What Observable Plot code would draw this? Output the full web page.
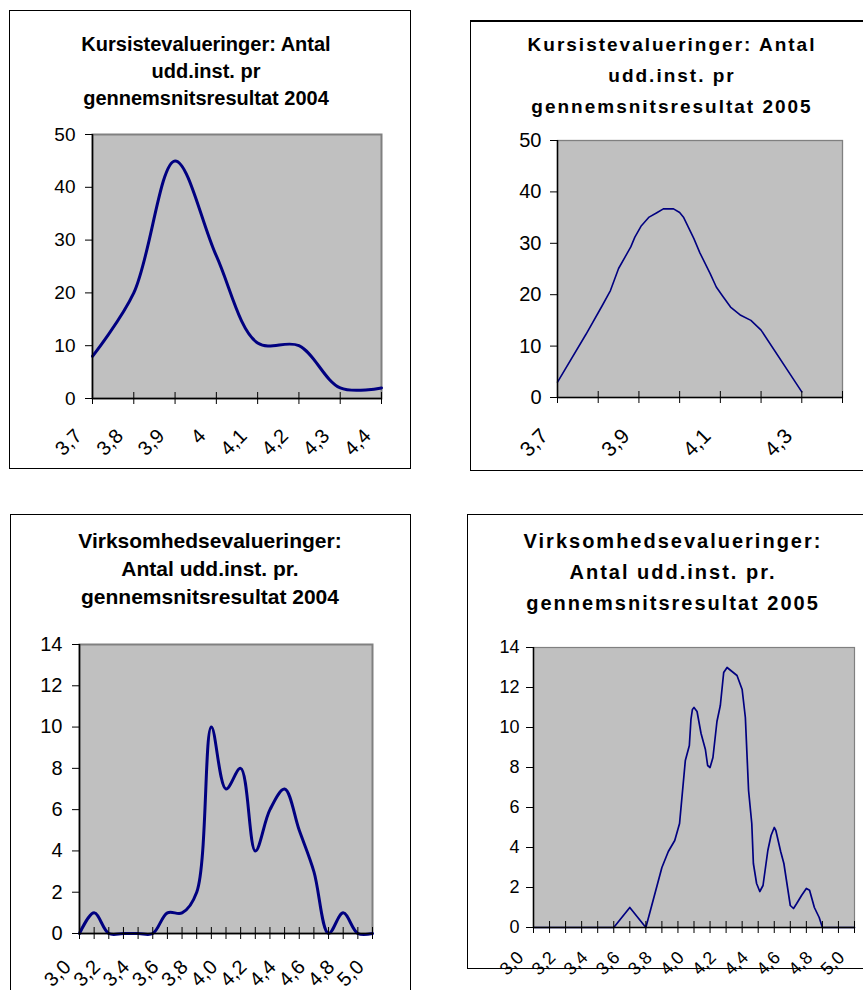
<!DOCTYPE html>
<html><head><meta charset="utf-8">
<script src="https://cdn.jsdelivr.net/npm/d3@7"></script>
<script src="https://cdn.jsdelivr.net/npm/@observablehq/plot@0.6"></script>
<style>
body{margin:0;background:#fff;font-family:"Liberation Sans",Arial,sans-serif;}
#page{position:relative;width:863px;height:990px;overflow:hidden;background:#fff;}
.box{position:absolute;border:1px solid #000;box-sizing:border-box;background:#fff;}
.title{position:absolute;text-align:center;font-weight:bold;white-space:nowrap;color:#000;font-family:"Liberation Sans",Arial,sans-serif;}
</style></head><body><div id="page"></div>
<script>
// ---- data ----
const k04X = [3.7, 3.8, 3.9, 4.0, 4.1, 4.2, 4.3, 4.4];
const k04Y = [8, 20, 45, 27, 10.5, 10, 2, 2];

const k05X = [3.70, 3.77, 3.81, 3.83, 3.85, 3.88, 3.89, 3.905, 3.925, 3.945, 3.96, 3.985, 4.0, 4.01, 4.035, 4.05, 4.075, 4.09, 4.105, 4.125, 4.15, 4.175, 4.2, 4.3];
const k05Y = [3, 12.3, 17.9, 20.8, 25.1, 29.3, 31.2, 33.3, 35.1, 36, 36.7, 36.7, 36, 35, 30.9, 28.1, 24.1, 21.5, 19.8, 17.6, 16, 15, 13.1, 1.1];

const v04X = [3.0, 3.1, 3.2, 3.3, 3.4, 3.5, 3.6, 3.7, 3.8, 3.9, 4.0, 4.1, 4.2, 4.3, 4.4, 4.5, 4.6, 4.7, 4.8, 4.9, 5.0];
const v04Y = [0, 1, 0, 0, 0, 0, 1, 1, 2, 10, 7, 8, 4, 6, 7, 5, 3, 0, 1, 0, 0];

const v05X = [3.0, 3.5, 3.6, 3.7, 3.8, 3.84, 3.88, 3.91, 3.946, 3.971, 3.981, 3.99, 4.0, 4.019, 4.044, 4.071, 4.085, 4.1, 4.118, 4.143, 4.164, 4.185, 4.206, 4.268, 4.30, 4.32, 4.34, 4.36, 4.37, 4.39, 4.41, 4.43, 4.46, 4.48, 4.50, 4.51, 4.54, 4.56, 4.60, 4.62, 4.64, 4.67, 4.70, 4.72, 4.75, 4.78, 4.80, 5.0];
const v05Y = [0, 0, 1, 0, 3.0, 3.8, 4.35, 5.2, 8.35, 9.1, 10.4, 10.9, 11.0, 10.8, 9.7, 8.9, 8.1, 8.0, 8.5, 10.3, 11.1, 12.75, 13.0, 12.6, 11.9, 10.5, 6.85, 5.2, 3.2, 2.2, 1.8, 2.1, 3.85, 4.6, 5.0, 4.85, 3.8, 3.2, 1.1, 0.95, 1.2, 1.6, 1.95, 1.86, 1.0, 0.5, 0, 0];

const ticksK = [3.7, 3.8, 3.9, 4.0, 4.1, 4.2, 4.3, 4.4];
const labelPosK04 = [3.7, 3.8, 3.9, 4.0, 4.1, 4.2, 4.3, 4.4];
const labelsK04 = ["3,7", "3,8", "3,9", "4", "4,1", "4,2", "4,3", "4,4"];
const labelPosK05 = [3.7, 3.9, 4.1, 4.3];
const labelsK05 = ["3,7", "3,9", "4,1", "4,3"];
const ticksV = [3.0, 3.1, 3.2, 3.3, 3.4, 3.5, 3.6, 3.7, 3.8, 3.9, 4.0, 4.1, 4.2, 4.3, 4.4, 4.5, 4.6, 4.7, 4.8, 4.9, 5.0];
const labelPosV = [3.0, 3.2, 3.4, 3.6, 3.8, 4.0, 4.2, 4.4, 4.6, 4.8, 5.0];
const labelsV = ["3,0", "3,2", "3,4", "3,6", "3,8", "4,0", "4,2", "4,4", "4,6", "4,8", "5,0"];
const yTicksK = [0, 10, 20, 30, 40, 50];
const yTicksV = [0, 2, 4, 6, 8, 10, 12, 14];

const titleK04 = ["Kursistevalueringer: Antal", "udd.inst. pr", "gennemsnitsresultat 2004"];
const titleK05 = ["Kursistevalueringer: Antal", "udd.inst. pr", "gennemsnitsresultat 2005"];
const titleV04 = ["Virksomhedsevalueringer:", "Antal udd.inst. pr.", "gennemsnitsresultat 2004"];
const titleV05 = ["Virksomhedsevalueringer:", "Antal udd.inst. pr.", "gennemsnitsresultat 2005"];

// ---- drawing ----
const page = document.getElementById("page");
const FONT = "'Liberation Sans', Arial, sans-serif";

function panel(o) {
  const box = document.createElement("div");
  box.className = "box";
  Object.assign(box.style, {
    left: o.box[0] + "px", top: o.box[1] + "px",
    width: (o.box[2] - o.box[0]) + "px", height: (o.box[3] - o.box[1]) + "px",
    borderTopWidth: (o.boxTop || 1) + "px"
  });
  page.appendChild(box);

  o.title.forEach((t, i) => {
    const d = document.createElement("div");
    d.className = "title";
    d.textContent = t;
    Object.assign(d.style, {
      left: (o.titleCx - 250) + "px", width: "500px",
      top: (o.titleBase[i] - 0.8465 * o.titleSize) + "px",
      fontSize: o.titleSize + "px", lineHeight: o.titleSize + "px",
      letterSpacing: (o.titleLs || 0) + "px"
    });
    page.appendChild(d);
  });

  const [L, T, R, B] = o.frame;
  const ml = 75, mt = 12, mr = 15, mb = 62;
  const data = o.xs.map((x, i) => ({x, y: o.ys[i]}));
  const labels = o.labelPos.map((v, i) => ({v, t: o.labels[i]}));
  const chart = Plot.plot({
    width: R - L + ml + mr, height: B - T + mt + mb,
    marginLeft: ml, marginTop: mt, marginRight: mr, marginBottom: mb,
    x: {domain: o.xDomain, axis: null},
    y: {domain: o.yDomain},
    style: {background: "none", overflow: "visible", fontFamily: FONT, color: "#000"},
    marks: [
      Plot.frame({fill: "#c0c0c0", stroke: "#808080", strokeWidth: o.frameW}),
      Plot.line(data, {x: "x", y: "y", stroke: "#000080", strokeWidth: o.lineW, curve: o.curve}),
      Plot.ruleX([o.xDomain[0]], {stroke: "#000", strokeWidth: 1.5}),
      Plot.ruleY([0], {stroke: "#000", strokeWidth: 1.5}),
      Plot.axisY({ticks: o.yTicks, tickSize: 7, tickPadding: o.yPad, fontSize: o.yFont, label: null, tickFormat: d => String(d)}),
      Plot.ruleX(o.xTicks, {x: d => d, y1: 0, y2: 0, insetTop: -6, insetBottom: -6, stroke: "#000", strokeWidth: 1}),
      Plot.text(labels, {x: "v", text: "t", frameAnchor: "bottom", rotate: -45, textAnchor: "end", lineAnchor: "middle", dx: o.lblDx, dy: o.lblDy, fontSize: o.xFont, fill: "#000"})
    ]
  });
  Object.assign(chart.style, {position: "absolute", left: (L - ml) + "px", top: (T - mt) + "px"});
  page.appendChild(chart);
}

panel({
  box: [9, 10, 411, 469], title: titleK04, titleCx: 206, titleBase: [51, 78, 105], titleSize: 20,
  frame: [92, 134, 381, 398], xs: k04X, ys: k04Y, xDomain: [3.7, 4.4], yDomain: [0, 50],
  xTicks: ticksK, labelPos: labelPosK04, labels: labelsK04, yTicks: yTicksK,
  lineW: 3, frameW: 2, curve: "catmull-rom", yFont: 19, yPad: 10, xFont: 20, lblDx: -14, lblDy: 34
});
panel({
  box: [470, 20, 875, 471], boxTop: 2, title: titleK05, titleCx: 672, titleBase: [51, 82, 113], titleSize: 19, titleLs: 2,
  frame: [557, 140, 842, 397], xs: k05X, ys: k05Y, xDomain: [3.7, 4.4], yDomain: [0, 50],
  xTicks: ticksK, labelPos: labelPosK05, labels: labelsK05, yTicks: yTicksK,
  lineW: 1.6, frameW: 1.3, curve: "linear", yFont: 20, yPad: 9, xFont: 21, lblDx: -13, lblDy: 35
});
panel({
  box: [10, 514, 411, 1000], title: titleV04, titleCx: 210, titleBase: [548, 576, 604], titleSize: 21,
  frame: [79, 644, 372, 933], xs: v04X, ys: v04Y, xDomain: [3.0, 5.0], yDomain: [0, 14],
  xTicks: ticksV, labelPos: labelPosV, labels: labelsV, yTicks: yTicksV,
  lineW: 3, frameW: 2, curve: "catmull-rom", yFont: 20, yPad: 10, xFont: 20, lblDx: -12, lblDy: 30
});
panel({
  box: [467, 514, 875, 969], title: titleV05, titleCx: 673, titleBase: [548, 579, 610], titleSize: 20, titleLs: 2,
  frame: [533, 647, 854, 927], xs: v05X, ys: v05Y, xDomain: [3.0, 5.0], yDomain: [0, 14],
  xTicks: ticksV, labelPos: labelPosV, labels: labelsV, yTicks: yTicksV,
  lineW: 1.7, frameW: 1.2, curve: "linear", yFont: 18, yPad: 7, xFont: 18, lblDx: -13, lblDy: 27
});
</script></body></html>
